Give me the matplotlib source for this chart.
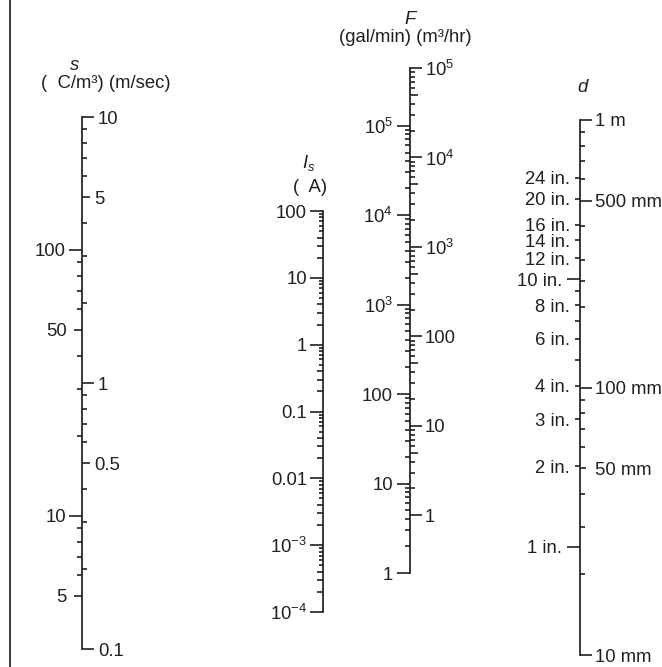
import matplotlib
matplotlib.use("Agg")
import matplotlib.pyplot as plt
from matplotlib.lines import Line2D
from matplotlib.ticker import FixedLocator, FixedFormatter, NullFormatter, NullLocator, LogLocator

# ---- scale values ----
# s : space charge density (left) / velocity (right)
S_DENSITY_PER_VELOCITY = 31.6        # C/m3 per m/sec, same log axis
S_VEL_RANGE = (0.1, 10)
S_DENS_MAJOR = [100, 50, 10, 5]
S_DENS_LABELS = ["100", "50", "10", "5"]
S_DENS_MINOR_RANGE = (5, 100)
S_VEL_MAJOR = [10, 5, 1, 0.5, 0.1]
S_VEL_LABELS = ["10", "5", "1", "0.5", "0.1"]
S_VEL_MINOR_RANGE = (0.1, 10)

# I_s : streaming current
IS_RANGE = (1e-4, 100)
IS_MAJOR = [100, 10, 1, 0.1, 0.01, 1e-3, 1e-4]
IS_LABELS = ["100", "10", "1", "0.1", "0.01", "$10^{-3}$", "$10^{-4}$"]

# F : flow, gal/min (left) and m3/hr (right)
F_GPM_PER_M3H = 4.403
F_M3H_TOP = 1e5
F_GPM_BOTTOM = 1
F_GPM_MAJOR = [1e5, 1e4, 1e3, 100, 10, 1]
F_GPM_LABELS = ["$10^5$", "$10^4$", "$10^3$", "100", "10", "1"]
F_M3H_MAJOR = [1e5, 1e4, 1e3, 100, 10, 1]
F_M3H_LABELS = ["$10^5$", "$10^4$", "$10^3$", "100", "10", "1"]

# d : pipe diameter, inches (left) and mm (right)
MM_PER_IN = 25.4
D_MM_RANGE = (10, 1000)
D_IN_LABELED = [24, 20, 16, 14, 12, 8, 6, 4, 3, 2]
D_IN_LABELS = ["24 in.", "20 in.", "16 in.", "14 in.", "12 in.", "8 in.",
               "6 in.", "4 in.", "3 in.", "2 in."]
D_IN_LONG = [10, 1]
D_IN_LONG_LABELS = ["10 in.", "1 in."]
D_IN_MINOR = [9, 7, 5]
D_MM_LABELED = [1000, 500, 100, 10]
D_MM_LABELS = ["1 m", "500 mm", "100 mm", "10 mm"]
D_MM_SHORT = [50]
D_MM_SHORT_LABELS = ["50 mm"]
D_MM_MINOR = [900, 800, 700, 600, 400, 300, 250, 200, 90, 80, 70, 60, 40, 30, 20]

# ---- layout (pixels) ----
W, H, DPI = 662, 667, 100
PT = 72.0 / DPI
INK = "#231f20"
FS = 13.3
AXIS_LW = 1.25
TICK_LW = 1.2

plt.rcParams["font.family"] = "Liberation Sans"
plt.rcParams["mathtext.fontset"] = "custom"
plt.rcParams["mathtext.rm"] = "Liberation Sans"
plt.rcParams["mathtext.it"] = "Liberation Sans:italic"
plt.rcParams["mathtext.default"] = "regular"

fig = plt.figure(figsize=(W / DPI, H / DPI), dpi=DPI)


def log_ticks(lo, hi, subs):
    vals = LogLocator(base=10, subs=subs, numticks=50).tick_values(lo, hi)
    return [v for v in vals if lo * 0.999 <= v <= hi * 1.001]


def tick_group(x, y_top, y_bot, lim, ticks, side, length, labels=None, pad=3, spine=False):
    ax = fig.add_axes([x / W, 1 - y_bot / H, 1e-4, (y_bot - y_top) / H])
    ax.set_yscale("log")
    ax.set_ylim(*lim)
    ax.set_xticks([])
    ax.patch.set_visible(False)
    for name, sp in ax.spines.items():
        sp.set_visible(spine and name == "left")
        sp.set_linewidth(AXIS_LW)
        sp.set_color(INK)
    ax.yaxis.set_major_locator(FixedLocator(ticks))
    ax.yaxis.set_minor_locator(NullLocator())
    if labels is None:
        ax.yaxis.set_major_formatter(NullFormatter())
    else:
        ax.yaxis.set_major_formatter(FixedFormatter(labels))
    ax.yaxis.set_ticks_position(side)
    ax.tick_params(axis="y", which="major", direction="out", length=length * PT,
                   width=TICK_LW, pad=pad * PT, colors=INK, labelsize=FS)
    return ax


def header(x, y, s, **kw):
    fig.text(x / W, 1 - y / H, s, ha="center", va="center", fontsize=FS, color=INK, **kw)


# left border rule
fig.add_artist(Line2D([10 / W, 10 / W], [0, 1], transform=fig.transFigure,
                      color=INK, lw=AXIS_LW))

MID = (2, 3, 4, 6, 7, 8, 9)

# ---- s scale ----
sx, st, sb = 82, 117, 649
s_dens = (S_VEL_RANGE[0] * S_DENSITY_PER_VELOCITY, S_VEL_RANGE[1] * S_DENSITY_PER_VELOCITY)
tick_group(sx, st, sb, S_VEL_RANGE, [], "left", 0, spine=True)
tick_group(sx, st, sb, s_dens, S_DENS_MAJOR[::2], "left", 13, S_DENS_LABELS[::2], pad=3)
tick_group(sx, st, sb, s_dens, S_DENS_MAJOR[1::2], "left", 8, S_DENS_LABELS[1::2], pad=7)
tick_group(sx, st, sb, s_dens, log_ticks(*S_DENS_MINOR_RANGE, MID), "left", 5)
tick_group(sx, st, sb, S_VEL_RANGE, S_VEL_MAJOR[::2], "right", 12, S_VEL_LABELS[::2], pad=4)
tick_group(sx, st, sb, S_VEL_RANGE, S_VEL_MAJOR[1::2], "right", 8, S_VEL_LABELS[1::2], pad=4)
tick_group(sx, st, sb, S_VEL_RANGE, log_ticks(*S_VEL_MINOR_RANGE, MID), "right", 5)
header(75, 65, "s", style="italic")
header(106, 83, "(  C/m³) (m/sec)")

# ---- I_s scale ----
ix, it, ib = 323, 211, 612
tick_group(ix, it, ib, IS_RANGE, IS_MAJOR, "left", 13, IS_LABELS, pad=3, spine=True)
tick_group(ix, it, ib, IS_RANGE, log_ticks(*IS_RANGE, (5, 6, 7, 8, 9)), "left", 4)
tick_group(ix, it, ib, IS_RANGE, log_ticks(*IS_RANGE, (2, 3, 4)), "left", 6)
header(309, 163, r"$\mathit{I}_\mathit{s}$")
header(310, 188, "(  A)")

# ---- F scale ----
fx, ft, fb = 410, 68, 573
f_m3h = (F_GPM_BOTTOM / F_GPM_PER_M3H, F_M3H_TOP)
f_gpm = (F_GPM_BOTTOM, F_M3H_TOP * F_GPM_PER_M3H)
tick_group(fx, ft, fb, f_gpm, F_GPM_MAJOR, "left", 13, F_GPM_LABELS, pad=4, spine=True)
tick_group(fx, ft, fb, f_gpm, log_ticks(1, 1e5, (2, 3, 4, 5, 6, 7, 8, 9)), "left", 5)
tick_group(fx, ft, fb, f_m3h, F_M3H_MAJOR, "right", 12, F_M3H_LABELS, pad=3)
tick_group(fx, ft, fb, f_m3h, log_ticks(1, 1e5, MID), "right", 5)
tick_group(fx, ft, fb, f_m3h, log_ticks(1, 1e5, (5,)), "right", 8)
header(410, 20, "F", style="italic")
header(405, 37, "(gal/min) (m³/hr)")

# ---- d scale ----
dx, dt, db = 580, 120, 655
d_in = (D_MM_RANGE[0] / MM_PER_IN, D_MM_RANGE[1] / MM_PER_IN)
tick_group(dx, dt, db, D_MM_RANGE, [], "left", 0, spine=True)
tick_group(dx, dt, db, d_in, D_IN_LABELED, "left", 5, D_IN_LABELS, pad=5)
tick_group(dx, dt, db, d_in, D_IN_LONG, "left", 13, D_IN_LONG_LABELS, pad=5)
tick_group(dx, dt, db, d_in, D_IN_MINOR, "left", 5)
tick_group(dx, dt, db, D_MM_RANGE, D_MM_LABELED, "right", 12, D_MM_LABELS, pad=3)
tick_group(dx, dt, db, D_MM_RANGE, D_MM_SHORT, "right", 6, D_MM_SHORT_LABELS, pad=9)
tick_group(dx, dt, db, D_MM_RANGE, D_MM_MINOR, "right", 5)
header(583, 87, "d", style="italic")

fig.savefig("out.png", dpi=DPI)
